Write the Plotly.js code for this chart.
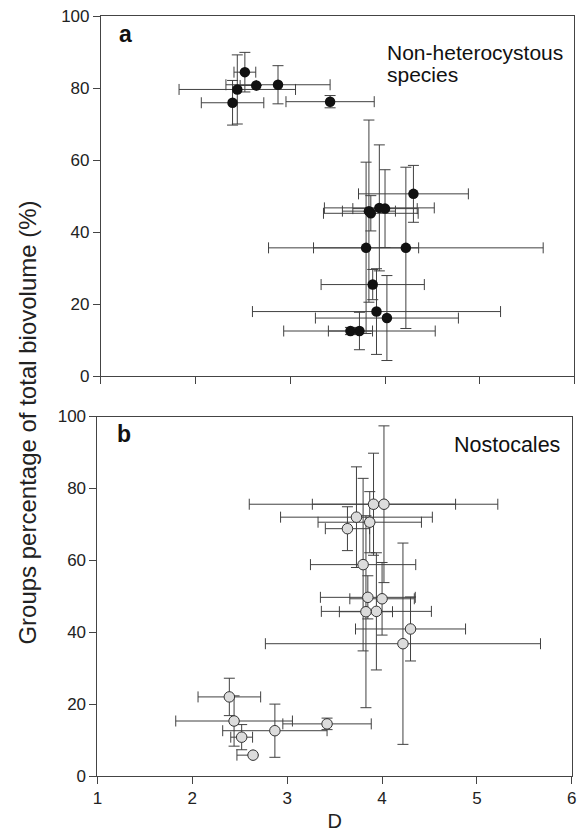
<!DOCTYPE html>
<html>
<head>
<meta charset="utf-8">
<script src="https://cdn.plot.ly/plotly-3.0.1.min.js"></script>
<style>
  html, body { margin: 0; padding: 0; background: #fff; }
  #chart { width: 577px; height: 835px; }
</style>
</head>
<body>
<div id="chart"></div>
<script>
// Shannon-type index D for each of the 18 samples (same samples in both panels)
const D          = [2.52, 2.44, 2.64, 2.87, 2.39, 3.42, 4.30, 3.94, 3.83, 3.85, 4.00, 3.80, 4.22, 3.87, 3.91, 4.02, 3.73, 3.635];
const D_errHigh  = [0.115, 0.615, 0.00, 0.55, 0.33, 0.466, 0.58, 0.58, 0.28, 0.50, 0.34, 0.555, 1.45, 0.545, 1.31, 0.755, 0.80, 0.233];
const D_errLow   = [0.115, 0.615, 0.17, 0.55, 0.33, 0.466, 0.58, 0.58, 0.28, 0.50, 0.34, 0.555, 1.45, 0.545, 1.31, 0.755, 0.80, 0.233];

// Panel a: non-heterocystous species (% of total biovolume)
const nonHet     = [84.4, 79.6, 80.7, 80.9, 75.9, 76.2, 50.6, 46.7, 45.8, 45.2, 46.5, 35.6, 35.6, 25.4, 17.9, 16.1, 12.5, 12.5];
const nonHet_err = [5.5, 9.6, 0.0, 5.3, 6.2, 1.7, 7.9, 17.5, 25.3, 4.9, 10.8, 23.8, 22.4, 4.2, 11.9, 11.8, 5.2, 1.0];

// Panel b: Nostocales (% of total biovolume)
const nostoc     = [10.8, 15.3, 5.8, 12.6, 22.0, 14.5, 40.9, 45.8, 45.7, 49.7, 49.3, 58.8, 36.8, 70.6, 75.6, 75.6, 72.0, 68.8];
const nostoc_err = [3.5, 7.0, 0.0, 7.4, 5.2, 1.6, 8.9, 16.3, 26.7, 6.0, 10.1, 24.0, 28.0, 8.5, 14.2, 21.8, 14.0, 6.1];

const xTicks = [1, 2, 3, 4, 5, 6];
const yTicks = [0, 20, 40, 60, 80, 100];

const FONT = 'Liberation Sans, Arial, sans-serif';
const ERRC = '#404040';

function errX() {
  return { type: 'data', symmetric: false, array: D_errHigh, arrayminus: D_errLow,
           color: ERRC, thickness: 1, width: 5.5 };
}
function errY(arr) {
  return { type: 'data', array: arr, color: ERRC, thickness: 1, width: 5.5 };
}

const traces = [
  {
    type: 'scatter', mode: 'markers', x: D, y: nonHet,
    xaxis: 'x', yaxis: 'y',
    error_x: errX(), error_y: errY(nonHet_err),
    marker: { size: 10.5, color: '#111111', line: { width: 0 } },
    hoverinfo: 'x+y', showlegend: false
  },
  {
    type: 'scatter', mode: 'markers', x: D, y: nostoc,
    xaxis: 'x2', yaxis: 'y2',
    error_x: errX(), error_y: errY(nostoc_err),
    marker: { size: 10.5, color: '#dcdcdc', line: { width: 1, color: '#333333' } },
    hoverinfo: 'x+y', showlegend: false
  }
];

const axisCommon = {
  showline: true, linecolor: '#444', linewidth: 1, mirror: true,
  ticks: 'outside', ticklen: 7, tickwidth: 1, tickcolor: '#444',
  showgrid: false, zeroline: false,
  tickfont: { family: FONT, size: 17, color: '#222' }
};

const layout = {
  width: 577, height: 835,
  margin: { l: 97, r: 2, t: 16, b: 59 },
  paper_bgcolor: '#fff', plot_bgcolor: '#fff',
  font: { family: FONT, color: '#222' },
  xaxis: Object.assign({}, axisCommon, {
    domain: [0.0082, 0.9988], range: [1, 6], tickvals: xTicks,
    showticklabels: false, anchor: 'y'
  }),
  yaxis: Object.assign({}, axisCommon, {
    domain: [0.5263, 1], range: [0, 100], tickvals: yTicks, anchor: 'x'
  }),
  xaxis2: Object.assign({}, axisCommon, {
    domain: [0.001, 0.9933], range: [1, 6], tickvals: xTicks, anchor: 'y2',
    title: { text: 'D', font: { family: FONT, size: 20, color: '#222' }, standoff: 6 }
  }),
  yaxis2: Object.assign({}, axisCommon, {
    domain: [0, 0.473], range: [0, 100], tickvals: yTicks, anchor: 'x2'
  }),
  annotations: [
    { xref: 'x', yref: 'y', x: 1.17, y: 95.0, text: '<b>a</b>', showarrow: false,
      xanchor: 'left', yanchor: 'middle', font: { family: FONT, size: 23, color: '#111' } },
    { xref: 'x2', yref: 'y2', x: 1.19, y: 95.2, text: '<b>b</b>', showarrow: false,
      xanchor: 'left', yanchor: 'middle', font: { family: FONT, size: 23, color: '#111' } },
    { xref: 'x', yref: 'y', x: 4.0, y: 89.8, text: 'Non-heterocystous', showarrow: false,
      xanchor: 'left', yanchor: 'middle', font: { family: FONT, size: 21, color: '#111' } },
    { xref: 'x', yref: 'y', x: 4.0, y: 83.8, text: 'species', showarrow: false,
      xanchor: 'left', yanchor: 'middle', font: { family: FONT, size: 21, color: '#111' } },
    { xref: 'x2', yref: 'y2', x: 4.74, y: 92.2, text: 'Nostocales', showarrow: false,
      xanchor: 'left', yanchor: 'middle', font: { family: FONT, size: 21.5, color: '#111' } },
    { xref: 'paper', yref: 'paper', x: -0.1443, y: 0.465, text: 'Groups percentage of total biovolume (%)',
      textangle: -90, showarrow: false, xanchor: 'center', yanchor: 'middle',
      font: { family: FONT, size: 24, color: '#222' } }
  ]
};

Plotly.newPlot('chart', traces, layout, { staticPlot: true, displayModeBar: false });
</script>
</body>
</html>
